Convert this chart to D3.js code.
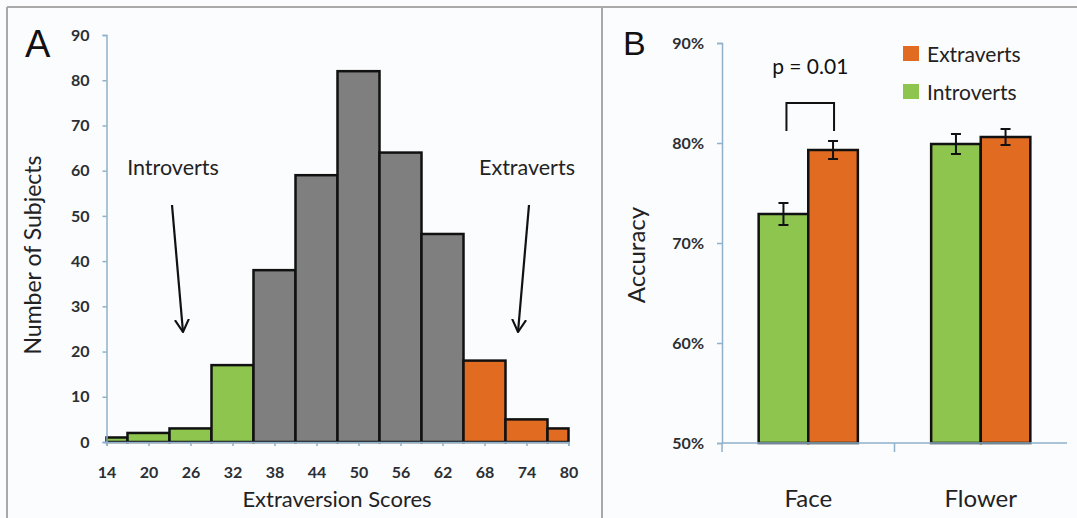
<!DOCTYPE html>
<html>
<head>
<meta charset="utf-8">
<script src="https://cdn.jsdelivr.net/npm/d3@7"></script>
<style>
  body { margin: 0; background: #fff; }
  svg text { font-family: Lato, "Open Sans", sans-serif; }
</style>
</head>
<body>
<script>
// panel A data: histogram of extraversion scores
var binCenters = [14, 20, 26, 32, 38, 44, 50, 56, 62, 68, 74, 80];
var binCounts = [1, 2, 3, 17, 38, 59, 82, 64, 46, 18, 5, 3];
var binGroups = ["intro", "intro", "intro", "intro", "mid", "mid", "mid", "mid", "mid", "extra", "extra", "extra"];
var countTicks = [0, 10, 20, 30, 40, 50, 60, 70, 80, 90];

// panel B data: accuracy by stimulus
var stimuli = ["Face", "Flower"];
var groups = ["Introverts", "Extraverts"];
var accIntro = [0.729, 0.799];
var accExtra = [0.793, 0.806];
var errIntro = [0.011, 0.010];
var errExtra = [0.009, 0.008];
var accTicks = [0.5, 0.6, 0.7, 0.8, 0.9];

var width = 1077, height = 518;
var axisColor = "#8fb1c9";
var colors = {intro: "#8dc54f", mid: "#7f7f7f", extra: "#e26b22",
              Introverts: "#8dc54f", Extraverts: "#e26b22"};

var svg = d3.select("body").append("svg")
  .attr("width", width)
  .attr("height", height);

svg.append("rect").attr("width", width).attr("height", height).attr("fill", "#fbfcfe");

//frame lines
svg.append("line").attr("x1", 7).attr("x2", width).attr("y1", 7).attr("y2", 7)
  .attr("stroke", "#a9a9a9").attr("stroke-width", 2);
svg.append("line").attr("x1", 7).attr("x2", 7).attr("y1", 7).attr("y2", height)
  .attr("stroke", "#a9a9a9").attr("stroke-width", 2);
svg.append("line").attr("x1", 602).attr("x2", 602).attr("y1", 7).attr("y2", height)
  .attr("stroke", "#a9a9a9").attr("stroke-width", 2);

// ---------- panel A ----------
var xA = d3.scaleLinear().domain([14, 80]).range([106.5, 568.5]);
var yA = d3.scaleLinear().domain([0, 90]).range([442, 35]);
var halfBin = (binCenters[1] - binCenters[0]) / 2;

var gA = svg.append("g");

gA.selectAll(".bin")
  .data(binCenters)
  .enter().append("rect")
  .attr("class", "bin")
  .attr("x", function(d) { return xA(Math.max(d - halfBin, 14)); })
  .attr("width", function(d) { return xA(Math.min(d + halfBin, 80)) - xA(Math.max(d - halfBin, 14)); })
  .attr("y", function(d, i) { return yA(binCounts[i]); })
  .attr("height", function(d, i) { return yA(0) - yA(binCounts[i]); })
  .attr("fill", function(d, i) { return colors[binGroups[i]]; })
  .attr("stroke", "#111")
  .attr("stroke-width", 2.5);

var yAxisA = gA.append("g")
  .attr("transform", "translate(" + xA(14) + ",0)")
  .call(d3.axisLeft(yA).tickValues(countTicks).tickSize(4).tickPadding(13));

var xAxisA = gA.append("g")
  .attr("transform", "translate(0," + yA(0) + ")")
  .call(d3.axisBottom(xA).tickValues(binCenters).tickSize(4).tickPadding(21));

[yAxisA, xAxisA].forEach(function(ax) {
  ax.select(".domain").attr("stroke", axisColor).attr("stroke-width", 1.5);
  ax.selectAll(".tick line").attr("stroke", axisColor).attr("stroke-width", 1.5);
  ax.selectAll(".tick text").attr("fill", "#2b2f33").style("font-size", "16px").style("font-weight", "bold");
});

gA.append("text").attr("x", 25).attr("y", 57).text("A")
  .style("font-family", "Liberation Sans, Arial, sans-serif").style("font-size", "38px").attr("fill", "#111");

gA.append("text")
  .attr("x", 337).attr("y", 507)
  .attr("text-anchor", "middle")
  .style("font-size", "22px").attr("fill", "#222")
  .text("Extraversion Scores");

gA.append("text")
  .attr("transform", "translate(41,255) rotate(-90)")
  .attr("text-anchor", "middle")
  .style("font-size", "23px").attr("fill", "#222")
  .text("Number of Subjects");

//arrow annotations
svg.append("defs").append("marker")
  .attr("id", "arrowhead")
  .attr("viewBox", "0 0 10 10")
  .attr("refX", 9).attr("refY", 5)
  .attr("markerWidth", 14).attr("markerHeight", 16)
  .attr("markerUnits", "userSpaceOnUse")
  .attr("orient", "auto")
  .append("path")
  .attr("d", "M0,0 L9,5 L0,10")
  .attr("fill", "none").attr("stroke", "#111").attr("stroke-width", 1.5);

var notes = [
  {label: "Introverts", tx: 173, ty: 175, x1: 172, y1: 205, x2: 183, y2: 332},
  {label: "Extraverts", tx: 527, ty: 175, x1: 529, y1: 205, x2: 518, y2: 332}
];
notes.forEach(function(n) {
  gA.append("text").attr("x", n.tx).attr("y", n.ty).attr("text-anchor", "middle")
    .style("font-size", "21.5px").attr("fill", "#222").text(n.label);
  gA.append("line").attr("x1", n.x1).attr("y1", n.y1).attr("x2", n.x2).attr("y2", n.y2)
    .attr("stroke", "#111").attr("stroke-width", 2.2)
    .attr("marker-end", "url(#arrowhead)");
});

// ---------- panel B ----------
var yB = d3.scaleLinear().domain([0.5, 0.9]).range([443, 43]);
var x0 = d3.scaleBand().domain(stimuli).range([722, 1067]).paddingInner(0.425).paddingOuter(0.2125);
var x1 = d3.scaleBand().domain(groups).range([0, x0.bandwidth()]);
var x0Edges = d3.scaleBand().domain(stimuli).range([722, 1067]);

var gB = svg.append("g");

var barData = [];
stimuli.forEach(function(s, i) {
  barData.push({stim: s, group: "Introverts", v: accIntro[i], e: errIntro[i]});
  barData.push({stim: s, group: "Extraverts", v: accExtra[i], e: errExtra[i]});
});

gB.selectAll(".accbar")
  .data(barData)
  .enter().append("rect")
  .attr("class", "accbar")
  .attr("x", function(d) { return x0(d.stim) + x1(d.group); })
  .attr("width", x1.bandwidth())
  .attr("y", function(d) { return yB(d.v); })
  .attr("height", function(d) { return yB(0.5) - yB(d.v); })
  .attr("fill", function(d) { return colors[d.group]; })
  .attr("stroke", "#111")
  .attr("stroke-width", 2.5);

//error bars
var err = gB.selectAll(".err")
  .data(barData)
  .enter().append("g")
  .attr("class", "err")
  .attr("transform", function(d) { return "translate(" + (x0(d.stim) + x1(d.group) + x1.bandwidth() / 2) + ",0)"; })
  .attr("stroke", "#111").attr("stroke-width", 2);
err.append("line").attr("y1", function(d) { return yB(d.v + d.e); }).attr("y2", function(d) { return yB(d.v - d.e); });
err.append("line").attr("x1", -5).attr("x2", 5).attr("y1", function(d) { return yB(d.v + d.e); }).attr("y2", function(d) { return yB(d.v + d.e); });
err.append("line").attr("x1", -5).attr("x2", 5).attr("y1", function(d) { return yB(d.v - d.e); }).attr("y2", function(d) { return yB(d.v - d.e); });

var yAxisB = gB.append("g")
  .attr("transform", "translate(722,0)")
  .call(d3.axisLeft(yB).tickValues(accTicks).tickSize(5).tickPadding(13).tickFormat(d3.format(".0%")));
yAxisB.select(".domain").attr("stroke", axisColor).attr("stroke-width", 1.5);
yAxisB.selectAll(".tick line").attr("stroke", axisColor).attr("stroke-width", 1.5);
yAxisB.selectAll(".tick text").attr("fill", "#2b2f33").style("font-size", "16px").style("font-weight", "bold");

//category axis with ticks between categories
var xAxisB = gB.append("g").attr("transform", "translate(0," + yB(0.5) + ")");
xAxisB.append("line").attr("x1", 722).attr("x2", 1067)
  .attr("stroke", axisColor).attr("stroke-width", 1.5);
xAxisB.selectAll(".sep")
  .data(stimuli)
  .enter().append("line")
  .attr("x1", function(d) { return x0Edges(d); })
  .attr("x2", function(d) { return x0Edges(d); })
  .attr("y1", 0).attr("y2", 9)
  .attr("stroke", axisColor).attr("stroke-width", 1.5);
xAxisB.selectAll(".cat")
  .data(stimuli)
  .enter().append("text")
  .attr("x", function(d) { return x0Edges(d) + x0Edges.bandwidth() / 2; })
  .attr("y", 64)
  .attr("text-anchor", "middle")
  .style("font-size", "24px").attr("fill", "#222")
  .text(function(d) { return d; });

gB.append("text").attr("x", 623).attr("y", 55).text("B")
  .style("font-family", "Liberation Sans, Arial, sans-serif").style("font-size", "34px").attr("fill", "#111");

gB.append("text")
  .attr("transform", "translate(645,255) rotate(-90)")
  .attr("text-anchor", "middle")
  .style("font-size", "24px").attr("fill", "#222")
  .text("Accuracy");

//significance bracket over Face
var faceL = x0("Face") + x1("Introverts") + x1.bandwidth() / 2;
var faceR = x0("Face") + x1("Extraverts") + x1.bandwidth() / 2;
gB.append("path")
  .attr("d", "M" + (faceL + 3) + "," + 131 + "V" + 103 + "H" + (faceR + 1) + "V" + 131)
  .attr("fill", "none").attr("stroke", "#111").attr("stroke-width", 2);
gB.append("text")
  .attr("x", (faceL + faceR) / 2 + 2).attr("y", 74)
  .attr("text-anchor", "middle")
  .style("font-size", "21px").attr("fill", "#111")
  .text("p = 0.01");

//legend
var legend = gB.selectAll(".legend")
  .data(["Extraverts", "Introverts"])
  .enter().append("g")
  .attr("class", "legend")
  .attr("transform", function(d, i) { return "translate(903," + (46 + i * 38) + ")"; });
legend.append("rect").attr("width", 16).attr("height", 15)
  .attr("fill", function(d) { return colors[d]; });
legend.append("text").attr("x", 24).attr("y", 16)
  .style("font-size", "21px").attr("fill", "#222")
  .text(function(d) { return d; });
</script>
</body>
</html>
